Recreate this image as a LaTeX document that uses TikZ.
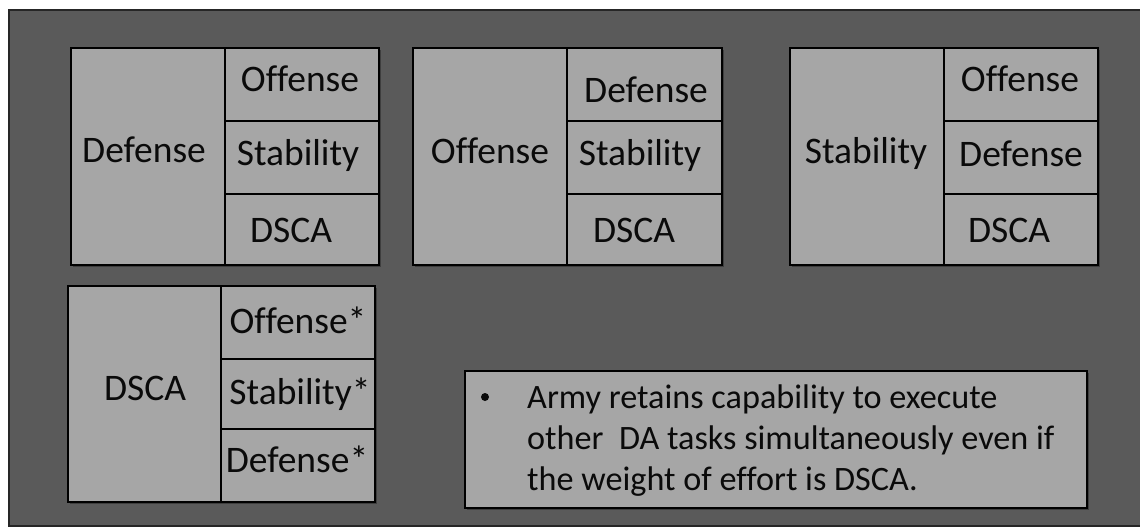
\documentclass[tikz,border=0pt]{standalone}
\usepackage{fontspec}
\setmainfont[Ligatures=NoCommon]{Carlito}
\usetikzlibrary{shadows}
\definecolor{panelgray}{HTML}{5A5A5A}
\definecolor{cellgray}{HTML}{A6A6A6}
\definecolor{inkgray}{HTML}{0A0A0A}
\tikzset{
  frame/.style={draw=black, line width=2pt, fill=cellgray,
    drop shadow={shadow xshift=2pt, shadow yshift=-2pt, opacity=0.3, fill=black}},
  divider/.style={draw=black, line width=1.6pt},
  lbl/.style={anchor=base, inner sep=0pt, text=inkgray, font=\fontsize{37.5}{42}\selectfont},
  note/.style={anchor=base west, inner sep=0pt, text=inkgray, font=\fontsize{34.2}{41}\selectfont},
}
\begin{document}
\begin{tikzpicture}[x=1pt, y=-1pt]
\useasboundingbox (0,0) rectangle (1140,527);
\fill[white] (0,0) rectangle (1140,527);
% dark panel
\draw[fill=panelgray, draw=black!85, line width=1.5pt] (9,10) rectangle (1150,526);

% --- block 1: Defense ---
\path[frame] (71,48) rectangle (379,265);
\draw[divider] (225,48) -- (225,265);
\draw[divider] (225,121) -- (379,121);
\draw[divider] (225,194) -- (379,194);
\node[lbl] (b1main) at (144,162) {Defense};
\node[lbl] (b1a) at (300,92) {Offense};
\node[lbl] (b1b) at (298,165) {Stability};
\node[lbl] (b1c) at (291,242) {DSCA};

% --- block 2: Offense ---
\path[frame] (413,48) rectangle (722,265);
\draw[divider] (567,48) -- (567,265);
\draw[divider] (567,121) -- (722,121);
\draw[divider] (567,194) -- (722,194);
\node[lbl] (b2main) at (490,163) {Offense};
\node[lbl] (b2a) at (646,102) {Defense};
\node[lbl] (b2b) at (640,165) {Stability};
\node[lbl] (b2c) at (634,242) {DSCA};

% --- block 3: Stability ---
\path[frame] (790,48) rectangle (1098,265);
\draw[divider] (944,48) -- (944,265);
\draw[divider] (944,121) -- (1098,121);
\draw[divider] (944,194) -- (1098,194);
\node[lbl] (b3main) at (866,163) {Stability};
\node[lbl] (b3a) at (1020,92) {Offense};
\node[lbl] (b3b) at (1021,166) {Defense};
\node[lbl] (b3c) at (1009,242) {DSCA};

% --- block 4: DSCA ---
\path[frame] (68,286) rectangle (375,502);
\draw[divider] (221,286) -- (221,502);
\draw[divider] (221,359) -- (375,359);
\draw[divider] (221,429) -- (375,429);
\node[lbl] (b4main) at (145,400) {DSCA};
\node[lbl] (b4a) at (298,333) {Offense*};
\node[lbl] (b4b) at (300,404) {Stability*};
\node[lbl] (b4c) at (297,472) {Defense*};

% --- note ---
\path[frame] (465,371) rectangle (1087,508);
\fill[inkgray] (485,397) circle (4);
\node[note] (n1) at (527,408) {Army retains capability to execute};
\node[note] (n2) at (527,449) {other\ \ DA tasks simultaneously even if};
\node[note] (n3) at (527,490) {the weight of effort is DSCA.};
\end{tikzpicture}
\end{document}
